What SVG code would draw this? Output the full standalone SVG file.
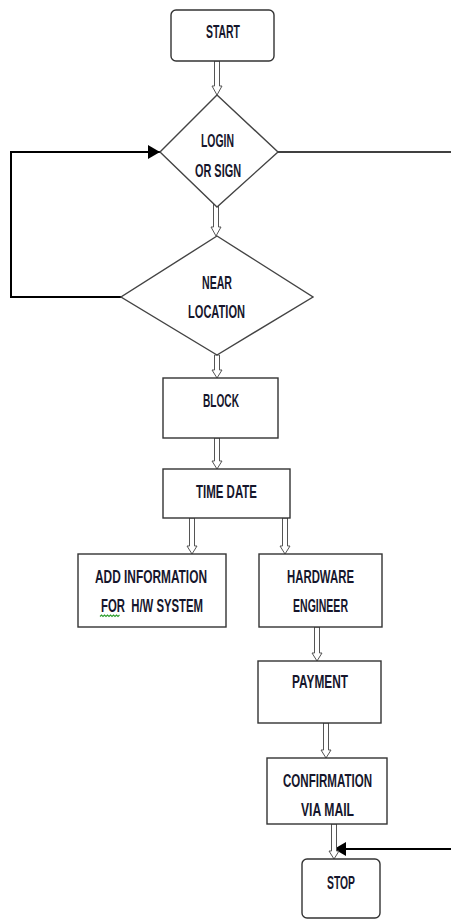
<svg xmlns="http://www.w3.org/2000/svg" width="451" height="922" viewBox="0 0 451 922">
<defs>
<style>
.box{fill:#fff;stroke:#333;stroke-width:1.4}
.dia{fill:#fff;stroke:#444;stroke-width:1.4}
.ha{fill:#fff;stroke:#555;stroke-width:1}
.line{fill:none;stroke:#000;stroke-width:2}
.thin{fill:none;stroke:#000;stroke-width:1.5}
.t{font-family:"Liberation Sans",Arial,sans-serif;font-weight:bold;font-size:18px;fill:#16162c;text-anchor:middle}
</style>
<marker id="ah" viewBox="0 0 12 14" refX="12" refY="7" markerWidth="12" markerHeight="14" markerUnits="userSpaceOnUse" orient="auto">
<path d="M0,0 L12,7 L0,14 Z" fill="#000"/>
</marker>
</defs>
<rect width="451" height="922" fill="#fff"/>
<g id="connectors">
<polyline class="line" points="121,297 11,297 11,152 160,152" marker-end="url(#ah)"/>
<line class="thin" x1="278" y1="152" x2="451" y2="152"/>
<line class="line" x1="451" y1="849" x2="334" y2="849" marker-end="url(#ah)"/>
<polygon class="ha" points="214.5,61 219.5,61 219.5,86 222,86 217,95 212,86 214.5,86"/>
<polygon class="ha" points="213.5,200 218.5,200 218.5,227 221,227 216,236 211,227 213.5,227"/>
<polygon class="ha" points="214.5,355 219.5,355 219.5,370 222,370 217,378 212,370 214.5,370"/>
<polygon class="ha" points="214.5,438 219.5,438 219.5,461 222,461 217,469 212,461 214.5,461"/>
<polygon class="ha" points="189.5,518 194.5,518 194.5,546 197,546 192,554 187,546 189.5,546"/>
<polygon class="ha" points="282.5,518 287.5,518 287.5,546 290,546 285,554 280,546 282.5,546"/>
<polygon class="ha" points="314.5,627 319.5,627 319.5,653 322,653 317,661 312,653 314.5,653"/>
<polygon class="ha" points="323.5,723 328.5,723 328.5,750 331,750 326,758 321,750 323.5,750"/>
<polygon class="ha" points="331.5,824 336.5,824 336.5,851 339,851 334,859 329,851 331.5,851"/>
</g>
<g id="start">
<rect class="box" x="171" y="10" width="103" height="51" rx="5"/>
<text class="t" x="223" y="38" textLength="34" lengthAdjust="spacingAndGlyphs">START</text>
</g>
<g id="login">
<polygon class="dia" points="217,95 278,152 217,207 160,152"/>
<text class="t" x="217.5" y="147" textLength="33" lengthAdjust="spacingAndGlyphs">LOGIN</text>
<text class="t" x="218" y="177" textLength="46" lengthAdjust="spacingAndGlyphs">OR SIGN</text>
</g>
<g id="near">
<polygon class="dia" points="217,236 313,297 217,355 121,297"/>
<text class="t" x="217" y="289" textLength="30" lengthAdjust="spacingAndGlyphs">NEAR</text>
<text class="t" x="216.5" y="318" textLength="57" lengthAdjust="spacingAndGlyphs">LOCATION</text>
</g>
<g id="block">
<rect class="box" x="163" y="378" width="115" height="60"/>
<text class="t" x="221" y="407" textLength="36" lengthAdjust="spacingAndGlyphs">BLOCK</text>
</g>
<g id="timedate">
<rect class="box" x="163" y="469" width="127" height="49"/>
<text class="t" x="226.5" y="498" textLength="61" lengthAdjust="spacingAndGlyphs">TIME DATE</text>
</g>
<g id="addinfo">
<rect class="box" x="78" y="554" width="148" height="73"/>
<text class="t" x="151" y="583" textLength="112" lengthAdjust="spacingAndGlyphs">ADD INFORMATION</text>
<text class="t" x="152" y="612" textLength="102" lengthAdjust="spacingAndGlyphs" xml:space="preserve">FOR  H/W SYSTEM</text>
<path d="M100,616.5 l1.5,-1.5 l1.5,1.5 l1.5,-1.5 l1.5,1.5 l1.5,-1.5 l1.5,1.5 l1.5,-1.5 l1.5,1.5 l1.5,-1.5 l1.5,1.5 l1.5,-1.5 l1.5,1.5 l1.5,-1.5" fill="none" stroke="#2e9e2e" stroke-width="1.1"/>
</g>
<g id="hardware">
<rect class="box" x="259" y="554" width="123" height="73"/>
<text class="t" x="320.5" y="583" textLength="67" lengthAdjust="spacingAndGlyphs">HARDWARE</text>
<text class="t" x="320.5" y="612" textLength="55" lengthAdjust="spacingAndGlyphs">ENGINEER</text>
</g>
<g id="payment">
<rect class="box" x="258" y="661" width="123" height="62"/>
<text class="t" x="320" y="688" textLength="56" lengthAdjust="spacingAndGlyphs">PAYMENT</text>
</g>
<g id="confirmation">
<rect class="box" x="267" y="758" width="120" height="66"/>
<text class="t" x="327.5" y="787" textLength="89" lengthAdjust="spacingAndGlyphs">CONFIRMATION</text>
<text class="t" x="327.5" y="816" textLength="53" lengthAdjust="spacingAndGlyphs">VIA MAIL</text>
</g>
<g id="stop">
<rect class="box" x="302" y="859" width="78" height="59" rx="5"/>
<text class="t" x="341" y="889" textLength="28" lengthAdjust="spacingAndGlyphs">STOP</text>
</g>
</svg>
